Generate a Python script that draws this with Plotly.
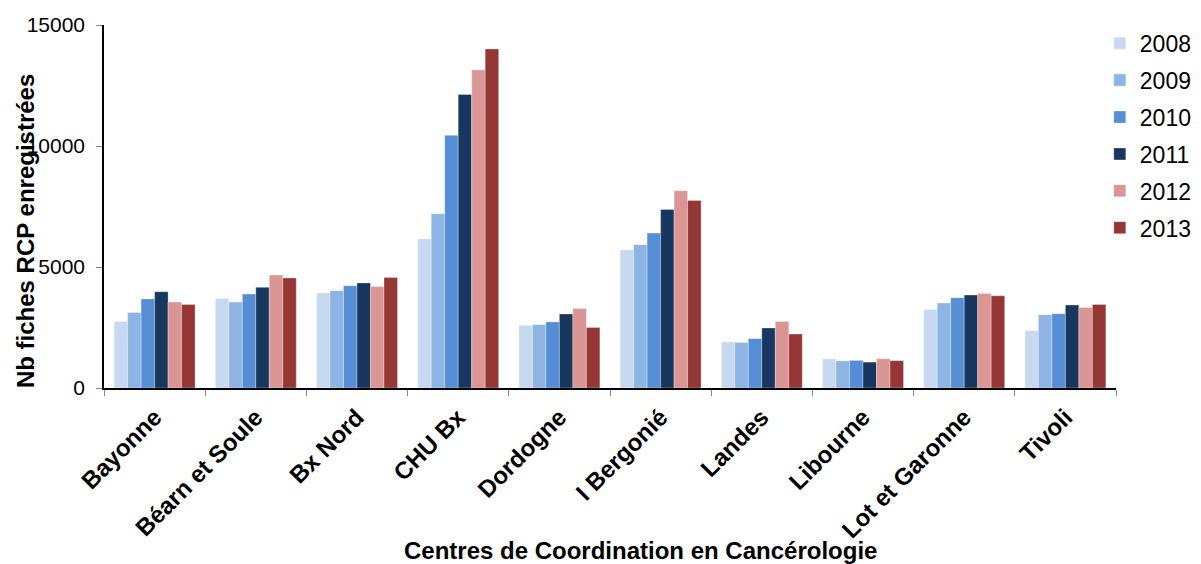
import plotly.graph_objects as go

# centres de coordination
centres = ["Bayonne", "Béarn et Soule", "Bx Nord", "CHU Bx", "Dordogne",
           "I Bergonié", "Landes", "Libourne", "Lot et Garonne", "Tivoli"]

annees = ["2008", "2009", "2010", "2011", "2012", "2013"]

v2008 = [2750, 3700, 3930, 6160, 2590, 5700, 1900, 1200, 3240, 2370]
v2009 = [3120, 3550, 4020, 7200, 2620, 5920, 1880, 1120, 3510, 3030]
v2010 = [3680, 3880, 4230, 10440, 2730, 6400, 2040, 1140, 3730, 3070]
v2011 = [3980, 4160, 4340, 12130, 3060, 7380, 2480, 1070, 3840, 3430]
v2012 = [3550, 4670, 4190, 13140, 3280, 8150, 2750, 1210, 3900, 3330]
v2013 = [3450, 4550, 4570, 14010, 2500, 7750, 2230, 1130, 3810, 3450]

valeurs = [v2008, v2009, v2010, v2011, v2012, v2013]
couleurs = ["#C6D9F1", "#8DB4E2", "#558ED5", "#17375E", "#D99694", "#953735"]

police = "Liberation Sans, Arial, sans-serif"

fig = go.Figure()
for annee, vals, coul in zip(annees, valeurs, couleurs):
    fig.add_trace(go.Bar(
        x=centres, y=vals, name=annee,
        marker=dict(color=coul, line=dict(color="rgba(255,255,255,0.6)", width=0.5)),
        legendgroup=annee,
    ))

# la page a une marge de 8px, d'où la taille 1193x556
fig.update_layout(
    width=1193, height=556,
    margin=dict(l=96, r=85, t=17, b=176, autoexpand=False),
    paper_bgcolor="white", plot_bgcolor="white",
    barmode="group", bargap=0.2, bargroupgap=0,
    font=dict(family=police, color="black"),
    showlegend=True,
    legend=dict(
        x=0.984, y=1.009, xanchor="left", yanchor="top",
        font=dict(size=23, family=police),
        tracegroupgap=4, itemwidth=30,
    ),
    xaxis=dict(
        showline=True, linecolor="black", linewidth=1.5,
        ticks="outside", tickson="boundaries", ticklen=6, tickcolor="#888",
        ticklabelstandoff=4,
        tickangle=-45, tickfont=dict(size=24, family=police, weight="bold"),
        showgrid=False,
    ),
    yaxis=dict(
        range=[0, 15000], tickvals=[0, 5000, 10000, 15000], tickformat="d",
        showline=True, linecolor="black", linewidth=1.5,
        ticks="outside", ticklen=6, tickcolor="#888", ticklabelstandoff=7,
        tickfont=dict(size=21, family=police),
        showgrid=False, zeroline=False,
    ),
    annotations=[
        dict(text="<b>Nb fiches RCP enregistrées</b>", textangle=-90,
             xref="paper", yref="paper", x=-0.078, y=0.4325,
             xanchor="center", yanchor="middle", showarrow=False,
             font=dict(size=24, family=police)),
        dict(text="<b>Centres de Coordination en Cancérologie</b>",
             xref="paper", yref="paper", x=0.5306, y=-0.449,
             xanchor="center", yanchor="middle", showarrow=False,
             font=dict(size=24, family=police)),
    ],
)

fig.write_html("out.html")
